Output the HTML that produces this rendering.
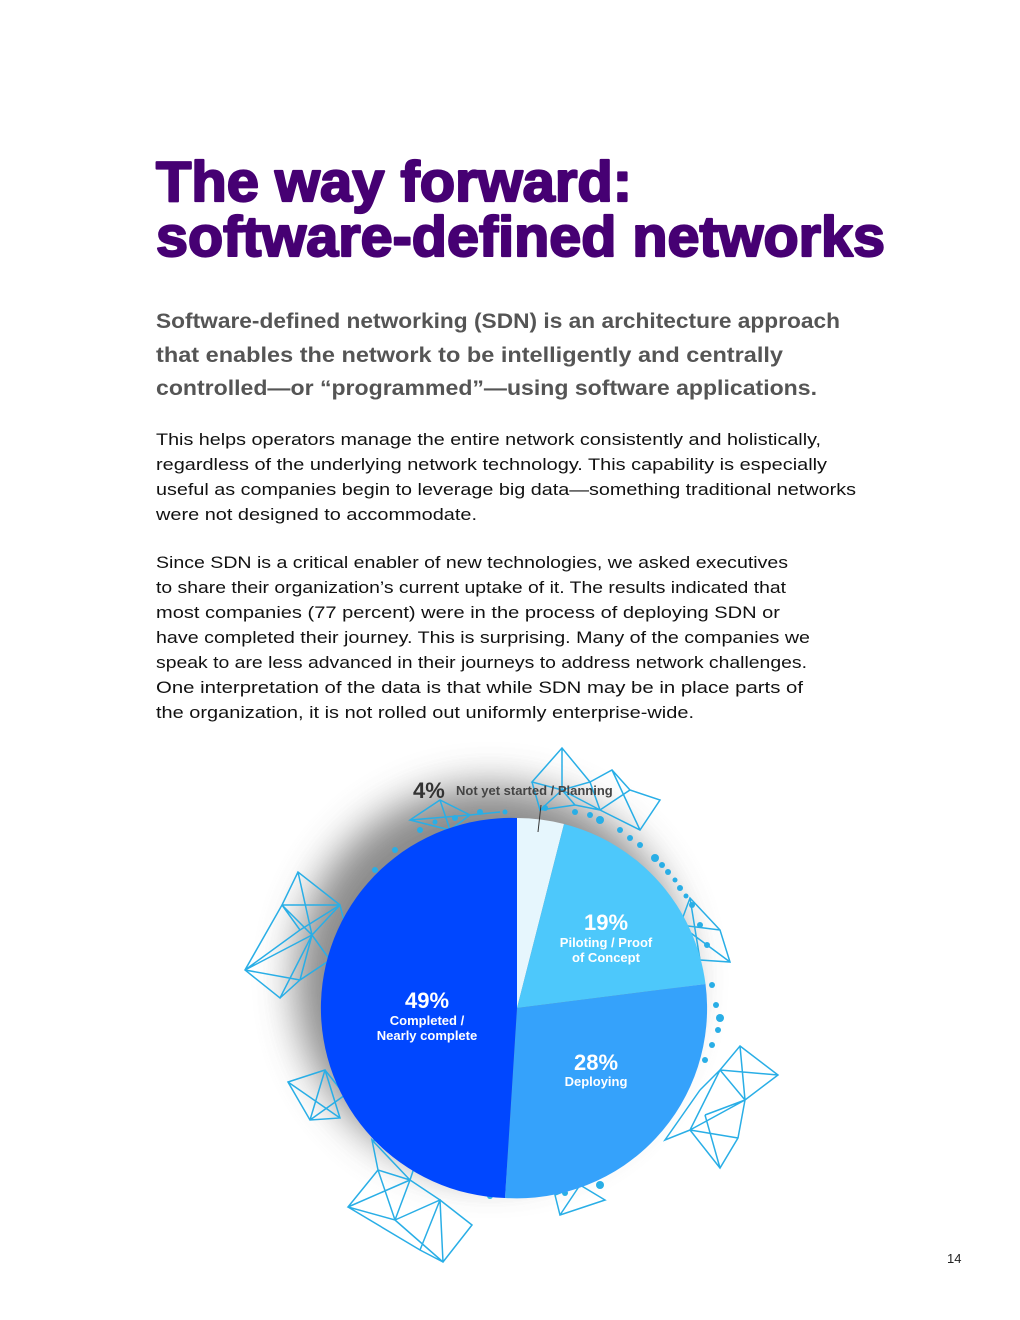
<!DOCTYPE html>
<html><head><meta charset="utf-8"><style>
html,body{margin:0;padding:0;background:#fff}
svg{display:block}
</style></head><body>
<svg width="1020" height="1320" viewBox="0 0 1020 1320" xmlns="http://www.w3.org/2000/svg" font-family="Liberation Sans, Arial, sans-serif">
<defs>
<filter id="bl" x="-50%" y="-50%" width="200%" height="200%"><feGaussianBlur stdDeviation="20"/></filter>
</defs>
<rect width="1020" height="1320" fill="#fff"/>
<g fill="#460073" stroke="#460073" stroke-width="2.2" stroke-linejoin="round" font-weight="bold" font-size="57">
<text x="156" y="201" textLength="476" lengthAdjust="spacingAndGlyphs">The way forward:</text>
<text x="156" y="256" textLength="729" lengthAdjust="spacingAndGlyphs">software-defined networks</text>
</g>
<g fill="#555" font-weight="bold" font-size="21.5">
<text x="156" y="328" textLength="684" lengthAdjust="spacingAndGlyphs">Software-defined networking (SDN) is an architecture approach</text>
<text x="156" y="362" textLength="627" lengthAdjust="spacingAndGlyphs">that enables the network to be intelligently and centrally</text>
<text x="156" y="395" textLength="661" lengthAdjust="spacingAndGlyphs">controlled—or “programmed”—using software applications.</text>
</g>
<g fill="#111" font-size="17">
<text x="156" y="445" textLength="665" lengthAdjust="spacingAndGlyphs">This helps operators manage the entire network consistently and holistically,</text>
<text x="156" y="470" textLength="671" lengthAdjust="spacingAndGlyphs">regardless of the underlying network technology. This capability is especially</text>
<text x="156" y="495" textLength="700" lengthAdjust="spacingAndGlyphs">useful as companies begin to leverage big data—something traditional networks</text>
<text x="156" y="520" textLength="321" lengthAdjust="spacingAndGlyphs">were not designed to accommodate.</text>
<text x="156" y="568" textLength="632" lengthAdjust="spacingAndGlyphs">Since SDN is a critical enabler of new technologies, we asked executives</text>
<text x="156" y="593" textLength="630" lengthAdjust="spacingAndGlyphs">to share their organization’s current uptake of it. The results indicated that</text>
<text x="156" y="618" textLength="624" lengthAdjust="spacingAndGlyphs">most companies (77 percent) were in the process of deploying SDN or</text>
<text x="156" y="643" textLength="654" lengthAdjust="spacingAndGlyphs">have completed their journey. This is surprising. Many of the companies we</text>
<text x="156" y="668" textLength="651" lengthAdjust="spacingAndGlyphs">speak to are less advanced in their journeys to address network challenges.</text>
<text x="156" y="693" textLength="647" lengthAdjust="spacingAndGlyphs">One interpretation of the data is that while SDN may be in place parts of</text>
<text x="156" y="718" textLength="538" lengthAdjust="spacingAndGlyphs">the organization, it is not rolled out uniformly enterprise-wide.</text>
</g>
<circle cx="490" cy="980" r="195" fill="#777" filter="url(#bl)" opacity="0.85"/>
<g stroke="#29aee6" stroke-width="1.5" fill="none">
<path d="M562 748 L532 782 L562 790 L590 782 Z M562 748 L562 790 M532 782 L540 810 L562 790 L600 810 L590 782 M600 810 L630 790 L660 800 L640 830 L600 810 M630 790 L612 770 L590 782 M612 770 L640 830 M540 810 L575 805 L600 810 M575 805 L562 790"/>
<path d="M298 872 L282 905 L312 935 L340 905 Z M298 872 L312 935 M282 905 L245 970 L280 998 L312 935 L330 960 L300 980 L280 998 M245 970 L312 935 M282 905 L300 930 L245 970 M340 905 L350 945 L330 960 M282 905 L340 905 M300 930 L340 905 M300 980 L312 935 M245 970 L300 980"/>
<path d="M288 1082 L325 1070 L340 1118 L310 1120 Z M288 1082 L340 1118 M325 1070 L310 1120 M325 1070 L345 1095 M310 1120 L345 1095"/>
<path d="M348 1207 L378 1170 L410 1180 L395 1220 Z M378 1170 L395 1220 M348 1207 L410 1180 M395 1220 L443 1262 L472 1225 L440 1200 L410 1180 M395 1220 L440 1200 L443 1262 M440 1200 L472 1225 M378 1170 L372 1140 L410 1180 M410 1180 L420 1150 M372 1140 L420 1150 M348 1207 L420 1250 L443 1262 M420 1250 L440 1200"/>
<path d="M740 1046 L778 1075 L745 1100 L720 1070 Z M740 1046 L745 1100 M720 1070 L778 1075 M745 1100 L738 1138 L720 1168 L690 1130 L720 1070 M690 1130 L745 1100 M720 1168 L705 1115 M690 1130 L665 1140 L700 1090 M700 1090 L720 1070 M690 1130 L738 1138 M705 1115 L745 1100"/>
<path d="M690 898 L720 930 L730 962 L700 960 L680 925 Z M690 898 L700 960 M680 925 L730 962 M680 925 L720 930"/>
<path d="M555 1195 L580 1185 L605 1200 L560 1215 Z M580 1185 L560 1215"/>
<path d="M410 820 L440 800 L470 815 L450 830 Z M440 800 L450 830 M470 815 L500 812 M410 820 L470 815"/>
</g>
<g fill="#29aee6">
<circle cx="600" cy="820" r="4"/><circle cx="620" cy="830" r="3"/><circle cx="640" cy="845" r="3"/><circle cx="655" cy="858" r="4"/><circle cx="668" cy="872" r="3"/><circle cx="680" cy="888" r="3"/><circle cx="692" cy="905" r="3"/><circle cx="700" cy="925" r="3"/><circle cx="707" cy="945" r="3"/><circle cx="712" cy="985" r="3"/><circle cx="716" cy="1005" r="3"/><circle cx="720" cy="1018" r="4"/><circle cx="718" cy="1030" r="3"/><circle cx="712" cy="1045" r="3"/><circle cx="705" cy="1060" r="3"/><circle cx="600" cy="1185" r="4"/><circle cx="565" cy="1193" r="3"/><circle cx="490" cy="1196" r="3"/><circle cx="470" cy="1190" r="3"/><circle cx="420" cy="830" r="3"/><circle cx="395" cy="850" r="3"/><circle cx="375" cy="870" r="3"/><circle cx="355" cy="905" r="3"/><circle cx="340" cy="935" r="3"/><circle cx="330" cy="1000" r="3"/><circle cx="575" cy="812" r="3"/><circle cx="545" cy="808" r="3"/><circle cx="480" cy="812" r="3"/><circle cx="455" cy="818" r="3"/><circle cx="590" cy="815" r="3"/><circle cx="630" cy="838" r="3"/><circle cx="662" cy="865" r="3"/><circle cx="675" cy="880" r="2.5"/><circle cx="686" cy="896" r="2.5"/><circle cx="435" cy="822" r="2.5"/><circle cx="505" cy="812" r="2.5"/>
</g>
<path d="M517 1008 L517 818 A190 190 0 0 1 564 824 Z" fill="#e6f6fd"/>
<path d="M517 1008 L564 824 A190 190 0 0 1 705.5 984 Z" fill="#4dc8fb"/>
<path d="M517 1008 L705.5 984 A190 190 0 0 1 505 1198 Z" fill="#35a2fb"/>
<path d="M517 1008 L505 1198 A190 190 0 0 1 517 818 Z" fill="#0047ff"/>
<line x1="541" y1="805" x2="538" y2="832" stroke="#333" stroke-width="1"/>
<text x="413" y="798" font-size="22" font-weight="bold" fill="#333">4%</text>
<text x="456" y="795" font-size="13" font-weight="bold" fill="#444">Not yet started / Planning</text>
<g fill="#fff" font-weight="bold" text-anchor="middle">
<text x="606" y="930" font-size="22">19%</text>
<text x="606" y="947" font-size="13">Piloting / Proof</text>
<text x="606" y="962" font-size="13">of Concept</text>
<text x="427" y="1008" font-size="22">49%</text>
<text x="427" y="1025" font-size="13">Completed /</text>
<text x="427" y="1040" font-size="13">Nearly complete</text>
<text x="596" y="1070" font-size="22">28%</text>
<text x="596" y="1086" font-size="13">Deploying</text>
</g>
<text x="947" y="1263" font-size="13" fill="#222">14</text>
</svg>
</body></html>
